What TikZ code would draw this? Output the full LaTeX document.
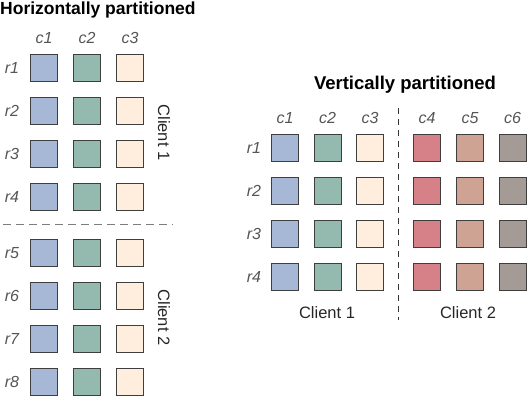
\documentclass[tikz,border=0pt]{standalone}
\usepackage{fontspec}
\setmainfont{Liberation Sans}
\usetikzlibrary{positioning}
\definecolor{cOneFill}{RGB}{167,183,214}
\definecolor{cTwoFill}{RGB}{148,186,175}
\definecolor{cThreeFill}{RGB}{255,237,221}
\definecolor{cFourFill}{RGB}{214,129,135}
\definecolor{cFiveFill}{RGB}{207,163,148}
\definecolor{cSixFill}{RGB}{165,155,150}
\definecolor{boxLine}{RGB}{62,62,62}
\definecolor{idxText}{RGB}{85,85,85}
\definecolor{sepLine}{RGB}{125,125,125}

\begin{document}
\begin{tikzpicture}[x=1pt,y=-1pt,
  cell/.style={draw=boxLine,line width=1pt,minimum size=27pt,inner sep=0pt},
  idx/.style={font=\fontsize{16}{16}\selectfont\itshape,text=idxText,inner sep=0pt},
  cli/.style={font=\fontsize{16.5}{16}\selectfont,text=black!85,inner sep=0pt},
  ttl/.style={font=\fontsize{17.5}{18}\selectfont\bfseries,inner sep=0pt},
  sep/.style={dash pattern=on 8pt off 5pt,line width=0.9pt,sepLine}]
\useasboundingbox (0,0) rectangle (528,398);
% horizontally partitioned
\node[ttl,anchor=west] (htitle) at (0,9.5) {Horizontally partitioned};
\foreach \r/\y in {1/68,2/111,3/154,4/197,5/253,6/296,7/339,8/382}
  \node[idx] (hr\r) at (12,\y) {r\r};
\foreach \c/\x/\col in {1/44/cOneFill,2/87/cTwoFill,3/130/cThreeFill}{
  \node[idx] (hc\c) at (\x,38) {c\c};
  \foreach \r/\y in {1/68,2/111,3/154,4/197,5/253,6/296,7/339,8/382}
    \node[cell,fill=\col] (h\r\c) at (\x,\y) {};
}
\coordinate (hsepA) at (3,224);
\coordinate (hsepB) at (173,224);
\draw[sep] (hsepA) -- (hsepB);
\node[cli,rotate=-90] (hcl1) at (164,132.5) {Client 1};
\node[cli,rotate=-90] (hcl2) at (164,317.5) {Client 2};
% vertically partitioned
\node[ttl,font=\fontsize{18.5}{18}\selectfont\bfseries] (vtitle) at (405,84.5) {Vertically partitioned};
\foreach \r/\y in {1/148,2/191,3/234,4/277}
  \node[idx] (vr\r) at (254,\y) {r\r};
\foreach \c/\x/\col in {1/285/cOneFill,2/327.5/cTwoFill,3/370/cThreeFill,
                        4/427/cFourFill,5/470/cFiveFill,6/512.5/cSixFill}{
  \node[idx] (vc\c) at (\x,118) {c\c};
  \foreach \r/\y in {1/148,2/191,3/234,4/277}
    \node[cell,fill=\col] (v\r\c) at (\x,\y) {};
}
\coordinate (vsepA) at (398,108);
\coordinate (vsepB) at (398,320);
\draw[sep,dash pattern=on 6pt off 5pt,black!80] (vsepA) -- (vsepB);
\node[cli] (vcl1) at (327,313) {Client 1};
\node[cli] (vcl2) at (468,313) {Client 2};
\end{tikzpicture}
\end{document}
